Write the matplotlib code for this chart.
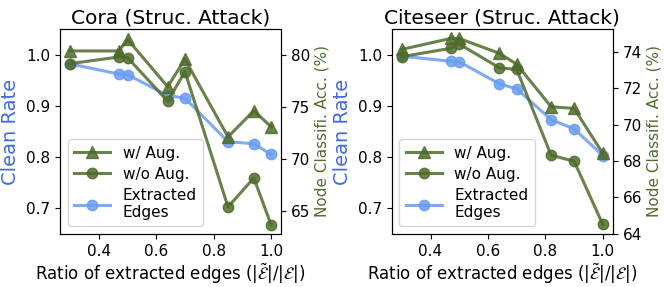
import matplotlib.pyplot as plt

# Cora
cora_x = [0.3, 0.47, 0.5, 0.64, 0.7, 0.85, 0.94, 1.0]
cora_edges = [0.982, 0.962, 0.961, 0.920, 0.915, 0.830, 0.826, 0.805]
cora_wo_aug = [79.17, 79.81, 79.75, 75.56, 78.40, 65.39, 68.18, 63.67]
cora_w_aug = [80.39, 80.39, 81.51, 76.95, 79.59, 72.13, 74.64, 73.10]

# Citeseer
cite_x = [0.3, 0.47, 0.5, 0.64, 0.7, 0.82, 0.9, 1.0]
cite_edges = [0.997, 0.987, 0.986, 0.943, 0.933, 0.873, 0.855, 0.803]
cite_wo_aug = [73.73, 74.19, 74.42, 73.12, 73.03, 68.32, 67.99, 64.52]
cite_w_aug = [74.13, 74.73, 74.73, 73.91, 73.32, 70.98, 70.89, 68.42]

titles = ["Cora (Struc. Attack)", "Citeseer (Struc. Attack)"]
acc_lims = [(62.8, 82.5), (64.0, 75.25)]
green = "#4f6b2a"
blue = "#6a9cf0"

fig = plt.figure(figsize=(6.64, 2.87), dpi=100)
lefts = [0.0904, 0.590]
datasets = [(cora_x, cora_edges, cora_wo_aug, cora_w_aug),
            (cite_x, cite_edges, cite_wo_aug, cite_w_aug)]

for i, (x, edges, wo, w) in enumerate(datasets):
    ax = fig.add_axes([lefts[i], 0.185, 0.333, 0.714])
    ax2 = ax.twinx()
    l3, = ax.plot(x, edges, color=blue, marker='o', markersize=7.5, lw=2.2,
                  alpha=0.85, label="Extracted\nEdges")
    l1, = ax2.plot(x, w, color=green, marker='^', markersize=8, lw=2.2,
                   alpha=0.85, label="w/ Aug.")
    l2, = ax2.plot(x, wo, color=green, marker='o', markersize=7.5, lw=2.2,
                   alpha=0.85, label="w/o Aug.")
    ax.set_ylim(0.65, 1.05)
    ax2.set_ylim(*acc_lims[i])
    ax.set_yticks([0.7, 0.8, 0.9, 1.0])
    ax.set_xticks([0.4, 0.6, 0.8, 1.0])
    ax.tick_params(labelsize=11)
    ax2.tick_params(labelsize=11)
    ax.set_title(titles[i], fontsize=14.5, pad=4)
    ax.set_ylabel("Clean Rate", color="royalblue", fontsize=14, labelpad=4)
    ax2.set_ylabel("Node Classifi. Acc. (%)", color="darkolivegreen",
                   fontsize=11, labelpad=3)
    ax.set_xlabel(r"Ratio of extracted edges ($|\tilde{\mathcal{E}}|/|\mathcal{E}|$)",
                  fontsize=12, labelpad=2)
    ax2.legend([l1, l2, l3], ["w/ Aug.", "w/o Aug.", "Extracted\nEdges"],
               loc="lower left", fontsize=11, handlelength=2.4,
               borderaxespad=0.5, labelspacing=0.4)

fig.savefig("out.png", dpi=100)
